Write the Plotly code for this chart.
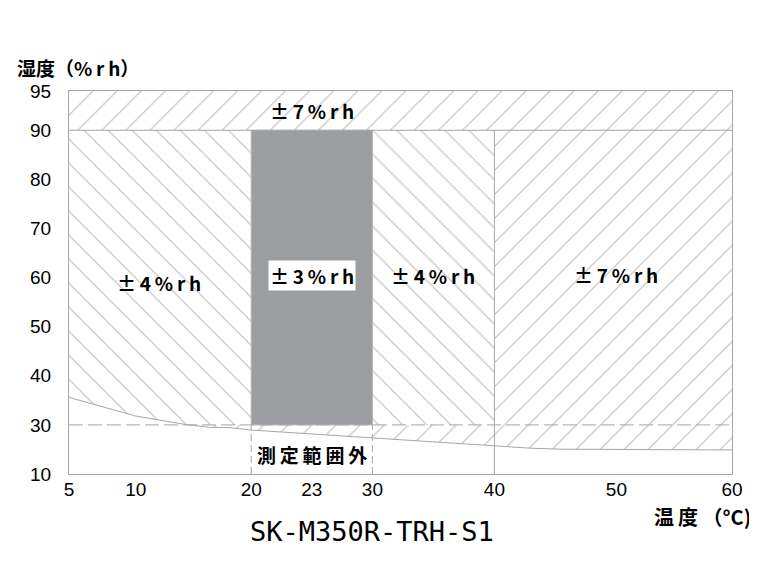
import numpy as np
import plotly.graph_objects as go

# ---------------- data ----------------
X_TICK_TEMPS = [5, 10, 20, 23, 30, 40, 50, 60]
X_TICK_LABELS = ["5", "10", "20", "23", "30", "40", "50", "60"]
Y_TICK_HUMS = [10, 30, 40, 50, 60, 70, 80, 90, 95]
Y_TICK_LABELS = ["10", "30", "40", "50", "60", "70", "80", "90", "95"]

# lower limit of measurable humidity (curve)
CURVE_TEMP = [5, 10, 14, 16.4, 18, 20, 30, 40, 43, 45.5, 56, 60]
CURVE_HUM = [35.6, 31.8, 30.2, 29.0, 28.9, 27.9, 24.7, 21.4, 20.5, 20.1, 20.1, 19.8]

T_MIN, T_MAX = 5, 60
H_TOP, H_MAX = 90, 95
H_LOW = 30
BEST_T = [20, 30]      # ±3%rh box temperature range
MID_T = 40             # boundary between ±4%rh and ±7%rh

ZONE_LABELS = ["±7%rh", "±4%rh", "±3%rh", "±4%rh", "±7%rh", "測定範囲外"]
ZONE_LABEL_T = [23, 12, 23, 35, 50, 23]
ZONE_LABEL_H = [92.5, 59, 60.5, 60.5, 60.7, 18]

MODEL = "SK-M350R-TRH-S1"

# ---------------- custom (non-linear) axis scales of the original drawing ----------------
X_SCALE_T = [5, 10, 20, 23, 30, 40, 50, 60]
X_SCALE_P = [69.3, 136, 251.5, 312.1, 372.7, 494.7, 616.7, 732.3]
Y_SCALE_H = [10, 30, 90, 95]
Y_SCALE_P = [20, 30, 90, 98]


def xp(t):
    return np.interp(np.asarray(t, dtype=float), X_SCALE_T, X_SCALE_P)


def yp(h):
    return np.interp(np.asarray(h, dtype=float), Y_SCALE_H, Y_SCALE_P)


ct = np.array(CURVE_TEMP, dtype=float)
ch = np.array(CURVE_HUM, dtype=float)
# temperature where the curve crosses 30 %rh
t_cross = float(np.interp(-H_LOW, -ch, ct))

HATCH = "#bdbdbd"
EDGE = "#a6a6a6"
GRAY = "#9c9ea1"

fig = go.Figure()


def region(xs, ys, shape):
    fig.add_trace(go.Scatter(
        x=list(xp(xs)), y=list(yp(ys)), mode="lines", fill="toself",
        line=dict(width=0, color="rgba(0,0,0,0)"),
        fillcolor="white",
        fillpattern=dict(shape=shape, size=17, solidity=0.065,
                         fgcolor=HATCH, bgcolor="white", fillmode="replace"),
        hoverinfo="skip", showlegend=False))


# top band (±7%rh)
region([T_MIN, T_MAX, T_MAX, T_MIN, T_MIN], [H_TOP, H_TOP, H_MAX, H_MAX, H_TOP], "/")

# ±4%rh region (5..40 °C, above max(curve, 30))
m = ct < t_cross
bx = list(ct[m]) + [t_cross, MID_T, MID_T, T_MIN, T_MIN]
by = list(ch[m]) + [H_LOW, H_LOW, H_TOP, H_TOP, ch[0]]
region(bx, by, "\\")

# strip below 30 %rh down to curve (t_cross..40)
m2 = (ct > t_cross) & (ct <= MID_T)
dx = [t_cross] + list(ct[m2]) + [MID_T, t_cross]
dy = [H_LOW] + list(ch[m2]) + [H_LOW, H_LOW]
region(dx, dy, "/")

# ±7%rh right region (40..60)
m3 = ct >= MID_T
rx = list(ct[m3]) + [T_MAX, MID_T, MID_T]
ry = list(ch[m3]) + [H_TOP, H_TOP, ch[m3][0]]
region(rx, ry, "/")

# ±3%rh grey box
fig.add_trace(go.Scatter(
    x=list(xp([BEST_T[0], BEST_T[1], BEST_T[1], BEST_T[0], BEST_T[0]])),
    y=list(yp([H_LOW, H_LOW, H_TOP, H_TOP, H_LOW])),
    mode="lines", fill="toself", fillcolor=GRAY,
    line=dict(width=1, color="#b3b5b8"),
    hoverinfo="skip", showlegend=False))

# curve
fig.add_trace(go.Scatter(x=list(xp(ct)), y=list(yp(ch)), mode="lines",
                         line=dict(color=EDGE, width=1),
                         hoverinfo="skip", showlegend=False))


# reference lines
def seg(t0, h0, t1, h1, dash="solid"):
    fig.add_shape(type="line", xref="x", yref="y",
                  x0=float(xp(t0)), x1=float(xp(t1)),
                  y0=float(yp(h0)), y1=float(yp(h1)),
                  line=dict(color=EDGE, width=1, dash=dash))


seg(T_MIN, H_TOP, T_MAX, H_TOP)
seg(MID_T, Y_TICK_HUMS[0], MID_T, H_TOP)
seg(T_MIN, H_LOW, T_MAX, H_LOW, dash="14px,5px")
seg(BEST_T[0], Y_TICK_HUMS[0], BEST_T[0], H_LOW, dash="7px,4px")
seg(BEST_T[1], Y_TICK_HUMS[0], BEST_T[1], H_LOW, dash="7px,4px")

TS = "\u2009"
# zone labels
LABEL_FONT = dict(family="Noto Sans CJK JP", size=19, color="black", weight=700)
for txt, t, h in zip(ZONE_LABELS, ZONE_LABEL_T, ZONE_LABEL_H):
    spaced = TS.join(list(txt))
    fig.add_annotation(x=float(xp(t)), y=float(yp(h)), xref="x", yref="y",
                       text=spaced, showarrow=False, font=LABEL_FONT,
                       bgcolor="white" if txt == "±3%rh" else None,
                       borderpad=1)

# axis titles and model name
fig.add_annotation(xref="paper", yref="paper", x=-0.082, y=1.062,
                   xanchor="left", yanchor="middle",
                   text="湿度（%" + TS + "r" + TS + "h）", showarrow=False,
                   font=dict(family="Noto Sans CJK JP", size=19, color="black", weight=700))
fig.add_annotation(xref="paper", yref="paper", x=1.031, y=-0.111,
                   xanchor="right", yanchor="middle", text="温" + TS + "度 （°C)", showarrow=False,
                   font=dict(family="Noto Sans CJK JP", size=20, color="black", weight=700))
fig.add_annotation(xref="paper", yref="paper", x=0.4566, y=-0.151,
                   xanchor="center", yanchor="middle", text=MODEL, showarrow=False,
                   font=dict(family="DejaVu Sans Mono", size=27, color="black"))

fig.update_xaxes(range=[float(xp(T_MIN)), float(xp(T_MAX))],
                 tickvals=list(xp(X_TICK_TEMPS)), ticktext=X_TICK_LABELS,
                 showgrid=False, zeroline=False, ticks="", ticklabelstandoff=-2,
                 showline=True, mirror=True, linecolor=EDGE, linewidth=1,
                 tickfont=dict(family="Liberation Sans", size=19, color="black"))
fig.update_yaxes(range=[float(yp(Y_TICK_HUMS[0])), float(yp(H_MAX))],
                 tickvals=list(yp(Y_TICK_HUMS)), ticktext=Y_TICK_LABELS,
                 showgrid=False, zeroline=False, ticks="", ticklabelstandoff=13,
                 showline=True, mirror=True, linecolor=EDGE, linewidth=1,
                 tickfont=dict(family="Liberation Sans", size=19, color="black"))

# page body has an 8px margin: figure is shrunk so the plot area lands where the reference has it
fig.update_layout(width=749, height=564, margin=dict(l=61, r=25, t=83, b=98),
                  plot_bgcolor="white", paper_bgcolor="white", showlegend=False)

fig.write_html("out.html")
